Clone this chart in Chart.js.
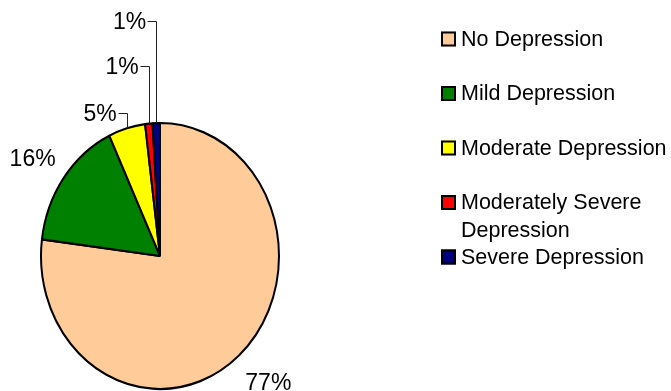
<!DOCTYPE html>
<html lang="en">
<head>
  <meta charset="UTF-8" />
  <title>Depression Severity</title>
  <style>
    body { margin: 0; background: #fff; }
    #wrap { width: 671px; height: 391px; }
  </style>
</head>
<body>
  <div id="wrap">
    <canvas id="pieChart" width="671" height="391"></canvas>
  </div>

  <script src="https://cdn.jsdelivr.net/npm/chart.js"></script>
  <script>
    const categories = ['No Depression', 'Mild Depression', 'Moderate Depression', ['Moderately Severe', 'Depression'], 'Severe Depression'];
    const percents = [77, 16, 5, 1, 1];
    const sliceColors = ['#FFCC99', '#008000', '#FFFF00', '#FF0000', '#000080'];

    const FONT = '"Liberation Sans", Arial, sans-serif';
    const squash = 133 / 119;         // pie is drawn as an ellipse, taller than wide
    const leaderRise = [0, 0, 10, 57, 102];  // elbow height above the pie top for small slices

    // stretch the pie vertically around its centre
    const ellipsePlugin = {
      id: 'ellipse',
      beforeDatasetsDraw(chart) {
        const arc = chart.getDatasetMeta(0).data[0];
        const ctx = chart.ctx;
        ctx.save();
        ctx.translate(arc.x, arc.y);
        ctx.scale(1, squash);
        ctx.translate(-arc.x, -arc.y);
      },
      afterDatasetsDraw(chart) {
        chart.ctx.restore();
      }
    };

    // percentage labels, with leader lines for the thin slices
    const labelPlugin = {
      id: 'sliceLabels',
      afterDatasetsDraw(chart) {
        const ctx = chart.ctx;
        const arcs = chart.getDatasetMeta(0).data;
        ctx.save();
        ctx.font = '23px ' + FONT;
        ctx.fillStyle = '#000';
        ctx.textBaseline = 'middle';
        arcs.forEach((arc, i) => {
          const { x, y, startAngle, endAngle, outerRadius } = arc.getProps(['x', 'y', 'startAngle', 'endAngle', 'outerRadius'], true);
          const mid = (startAngle + endAngle) / 2;
          const cos = Math.cos(mid), sin = Math.sin(mid);
          const ax = x + cos * outerRadius;
          const ay = y + sin * outerRadius * squash;
          const text = percents[i] + '%';
          if (!leaderRise[i]) {
            const w = ctx.measureText(text).width;
            ctx.textAlign = 'center';
            ctx.fillText(text, ax + cos * 10 + Math.sign(cos) * w / 2, ay + sin * 10 + Math.sign(sin) * 16 + 4);
            return;
          }
          const ey = y - outerRadius * squash - leaderRise[i];
          ctx.strokeStyle = '#222';
          ctx.lineWidth = 1;
          ctx.beginPath();
          ctx.moveTo(Math.round(ax) + 0.5, ay);
          ctx.lineTo(Math.round(ax) + 0.5, Math.round(ey) + 0.5);
          ctx.lineTo(Math.round(ax) - 8.5, Math.round(ey) + 0.5);
          ctx.stroke();
          ctx.textAlign = 'right';
          ctx.fillText(text, ax - 10, ey + 1.5);
        });
        ctx.restore();
      }
    };

    // legend on the right, one row per category
    const legendPlugin = {
      id: 'sideLegend',
      afterDraw(chart) {
        const ctx = chart.ctx;
        const left = 441, top = 39, step = 54.5, box = 15, lineH = 28;
        ctx.save();
        ctx.font = '21.5px ' + FONT;
        ctx.textBaseline = 'middle';
        ctx.textAlign = 'left';
        categories.forEach((label, i) => {
          const cy = top + i * step;
          ctx.fillStyle = sliceColors[i];
          ctx.fillRect(left, cy - box / 2, box, box);
          ctx.strokeStyle = '#000';
          ctx.lineWidth = 2;
          ctx.strokeRect(left + 1, cy - box / 2 + 1, box - 2, box - 2);
          ctx.fillStyle = '#000';
          const lines = Array.isArray(label) ? label : [label];
          lines.forEach((line, j) => ctx.fillText(line, left + box + 5, cy + 1 + j * lineH));
        });
        ctx.restore();
      }
    };

    new Chart(document.getElementById('pieChart'), {
      type: 'pie',
      data: {
        labels: categories,
        datasets: [{
          data: percents,
          backgroundColor: sliceColors,
          borderColor: '#000',
          borderWidth: 2
        }]
      },
      options: {
        responsive: false,
        animation: false,
        radius: 119,
        layout: { padding: { left: 0, right: 351, top: 121, bottom: 0 } },
        events: [],
        plugins: {
          legend: { display: false },
          tooltip: { enabled: false }
        }
      },
      plugins: [ellipsePlugin, labelPlugin, legendPlugin]
    });
  </script>
</body>
</html>
